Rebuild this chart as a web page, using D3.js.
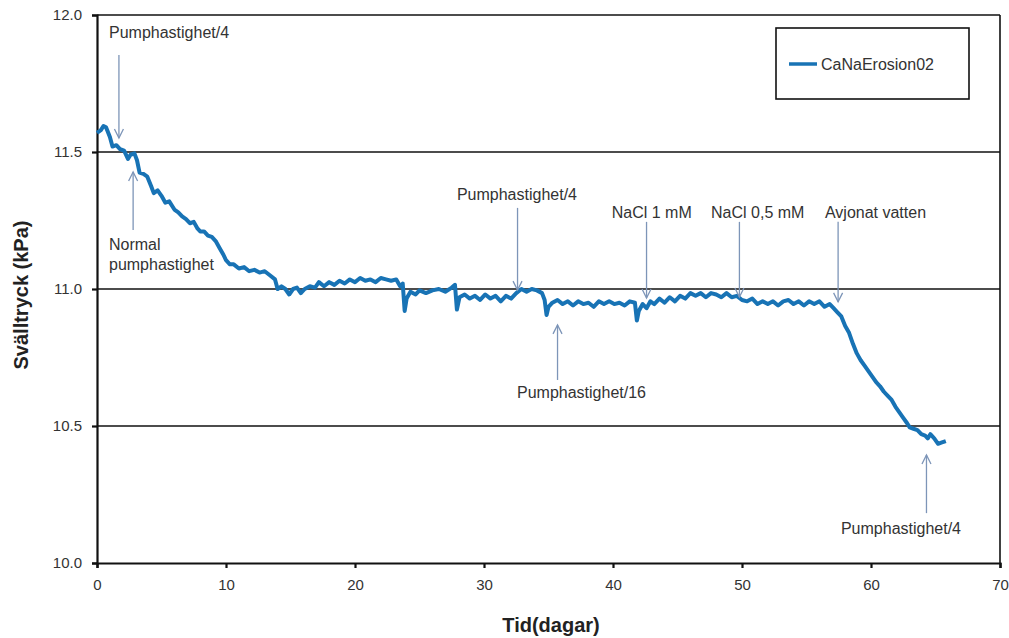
<!DOCTYPE html>
<html>
<head>
<meta charset="utf-8">
<script src="https://cdn.jsdelivr.net/npm/d3@7"></script>
<style>
  body { margin: 0; background: #fff; }
  text { font-family: "Liberation Sans", Arial, sans-serif; fill: #333; }
  .axis-title { font-weight: bold; font-size: 20px; fill: #222; }
</style>
</head>
<body>
<div id="chart"></div>
<script>
"use strict";
// tid i dagar, svälltryck i kPa
var tid = [0.0, 0.3, 0.5, 0.7, 1.0, 1.2, 1.5, 1.8, 2.1, 2.4, 2.6, 2.9, 3.1, 3.3, 3.6, 3.9, 4.2, 4.4, 4.7, 5.0,
  5.3, 5.6, 6.0, 6.3, 6.6, 6.9, 7.2, 7.5, 7.8, 8.0, 8.3, 8.6, 8.9, 9.2, 9.5, 9.8, 10.0, 10.3, 10.6, 11.0,
  11.4, 11.8, 12.2, 12.6, 13.0, 13.4, 13.8, 14.0, 14.3, 14.6, 14.9, 15.2, 15.5, 15.8, 16.1, 16.5, 16.9, 17.2, 17.6, 18.0,
  18.4, 18.8, 19.2, 19.6, 20.0, 20.4, 20.8, 21.2, 21.6, 22.0, 22.4, 22.8, 23.2, 23.5, 23.7, 23.85, 24.0, 24.3, 24.7, 25.0,
  25.5, 26.0, 26.5, 27.0, 27.5, 27.75, 27.9, 28.1, 28.5, 28.9, 29.3, 29.7, 30.1, 30.5, 30.9, 31.3, 31.7, 32.1, 32.5, 32.9,
  33.3, 33.7, 34.1, 34.5, 34.7, 34.85, 35.0, 35.3, 35.7, 36.1, 36.5, 36.9, 37.3, 37.7, 38.1, 38.5, 38.9, 39.3, 39.7, 40.1,
  40.5, 40.9, 41.3, 41.7, 41.85, 42.0, 42.3, 42.6, 42.9, 43.2, 43.6, 44.0, 44.4, 44.8, 45.2, 45.6, 46.0, 46.4, 46.8, 47.2,
  47.6, 48.0, 48.4, 48.8, 49.2, 49.6, 50.0, 50.4, 50.8, 51.2, 51.6, 52.0, 52.4, 52.8, 53.2, 53.6, 54.0, 54.4, 54.8, 55.2,
  55.6, 56.0, 56.4, 56.8, 57.1, 57.4, 57.7, 58.0, 58.3, 58.6, 58.9, 59.2, 59.5, 59.8, 60.1, 60.4, 60.7, 61.0, 61.3, 61.6,
  61.9, 62.2, 62.5, 62.8, 63.0, 63.3, 63.6, 63.9, 64.2, 64.4, 64.6, 64.9, 65.2, 65.5, 65.8];

var tryck = [11.57, 11.58, 11.595, 11.59, 11.555, 11.52, 11.525, 11.51, 11.505, 11.475, 11.49, 11.495, 11.47, 11.425, 11.42, 11.41, 11.375, 11.35, 11.36, 11.34,
  11.315, 11.32, 11.29, 11.28, 11.265, 11.255, 11.24, 11.245, 11.22, 11.21, 11.21, 11.195, 11.19, 11.175, 11.15, 11.125, 11.105, 11.09, 11.09, 11.075,
  11.08, 11.065, 11.07, 11.06, 11.065, 11.05, 11.035, 11.00, 11.01, 11.0, 10.98, 11.00, 11.005, 10.985, 11.0, 11.01, 11.005, 11.025, 11.01, 11.025,
  11.015, 11.03, 11.02, 11.035, 11.025, 11.04, 11.03, 11.035, 11.025, 11.04, 11.035, 11.03, 11.035, 11.01, 11.02, 10.92, 10.965, 10.99, 10.98, 10.995,
  10.985, 10.995, 11.0, 10.99, 11.005, 11.015, 10.925, 10.97, 10.98, 10.965, 10.975, 10.96, 10.98, 10.965, 10.975, 10.955, 10.975, 10.965, 10.985, 11.0,
  10.99, 11.0, 10.995, 10.985, 10.96, 10.905, 10.935, 10.95, 10.96, 10.945, 10.955, 10.94, 10.955, 10.945, 10.95, 10.935, 10.955, 10.945, 10.955, 10.945,
  10.95, 10.94, 10.955, 10.95, 10.885, 10.92, 10.945, 10.93, 10.955, 10.945, 10.965, 10.95, 10.97, 10.955, 10.975, 10.965, 10.985, 10.975, 10.985, 10.97,
  10.985, 10.98, 10.97, 10.985, 10.97, 10.975, 10.96, 10.955, 10.965, 10.945, 10.955, 10.945, 10.955, 10.94, 10.955, 10.96, 10.945, 10.955, 10.94, 10.955,
  10.945, 10.955, 10.935, 10.945, 10.93, 10.915, 10.90, 10.865, 10.84, 10.80, 10.765, 10.74, 10.72, 10.70, 10.68, 10.66, 10.645, 10.625, 10.61, 10.595,
  10.57, 10.55, 10.53, 10.51, 10.495, 10.49, 10.485, 10.47, 10.465, 10.455, 10.47, 10.455, 10.435, 10.44, 10.445];

var xTicks = [0, 10, 20, 30, 40, 50, 60, 70];
var yTicks = [10.0, 10.5, 11.0, 11.5, 12.0];
var gridValues = [10.5, 11.0, 11.5];
var seriesName = "CaNaErosion02";

// annotations: text, arrow day, arrow tip, arrow tail, text day, text line values
var annLabels = [["Pumphastighet/4"], ["Normal", "pumphastighet"], ["Pumphastighet/4"], ["Pumphastighet/16"],
  ["NaCl 1 mM"], ["NaCl 0,5 mM"], ["Avjonat vatten"], ["Pumphastighet/4"]];
var annDay = [1.7, 2.8, 32.6, 35.7, 42.6, 49.8, 57.45, 64.3];
var annTip = [11.551, 11.427, 10.996, 10.869, 10.967, 10.971, 10.953, 10.394];
var annTail = [11.854, 11.215, 11.296, 10.668, 11.245, 11.245, 11.245, 10.182];
var annTextDay = [0.93, 0.93, 27.9, 32.56, 39.9, 47.6, 56.43, 57.67];
var annTextVal = [[11.916], [11.142, 11.07], [11.325], [10.602], [11.259], [11.259], [11.259], [10.106]];

var W = 1009, H = 638;
var margin = { left: 97, right: 9, top: 15, bottom: 75 };

var svg = d3.select("#chart").append("svg").attr("width", W).attr("height", H);

var x = d3.scaleLinear().domain([0, 70]).range([margin.left, W - margin.right]);
var y = d3.scaleLinear().domain([10, 12]).range([H - margin.bottom, margin.top]);

// grid lines
svg.append("g").selectAll("line").data(gridValues).join("line")
  .attr("x1", x(0)).attr("x2", x(70))
  .attr("y1", function(d) { return y(d); }).attr("y2", function(d) { return y(d); })
  .attr("stroke", "#111").attr("stroke-width", 1.6);

// frame top and right
svg.append("line").attr("x1", x(0)).attr("x2", x(70)).attr("y1", y(12)).attr("y2", y(12))
  .attr("stroke", "#111").attr("stroke-width", 1.6);
svg.append("line").attr("x1", x(70)).attr("x2", x(70)).attr("y1", y(12)).attr("y2", y(10))
  .attr("stroke", "#111").attr("stroke-width", 1.6);

var xAxis = svg.append("g").attr("transform", "translate(0," + y(10) + ")")
  .call(d3.axisBottom(x).tickValues(xTicks).tickSize(5).tickPadding(11).tickFormat(d3.format("d")));
var yAxis = svg.append("g").attr("transform", "translate(" + x(0) + ",0)")
  .call(d3.axisLeft(y).tickValues(yTicks).tickSize(5).tickPadding(10).tickFormat(d3.format(".1f")));

[xAxis, yAxis].forEach(function(a) {
  a.select(".domain").attr("stroke", "#111").attr("stroke-width", 2.2);
  a.selectAll(".tick line").attr("stroke", "#111").attr("stroke-width", 2.2);
  a.selectAll(".tick text").style("font-size", "15px").style("font-family", "Liberation Sans, Arial, sans-serif").attr("fill", "#333");
});

// axis titles
svg.append("text").attr("class", "axis-title")
  .attr("x", 551).attr("y", 632).attr("text-anchor", "middle")
  .text("Tid(dagar)");
svg.append("text").attr("class", "axis-title")
  .attr("transform", "translate(28,295) rotate(-90)")
  .attr("text-anchor", "middle")
  .text("Svälltryck (kPa)");

// data line
var pts = tid.map(function(t, i) { return [t, tryck[i]]; });
var line = d3.line().x(function(d) { return x(d[0]); }).y(function(d) { return y(d[1]); });
svg.append("path").datum(pts)
  .attr("d", line)
  .attr("fill", "none")
  .attr("stroke", "#1873b5")
  .attr("stroke-width", 4)
  .attr("stroke-linejoin", "round");

// annotations
var arrowColor = "#7d95b8";
var ann = svg.append("g");
annLabels.forEach(function(lbl, i) {
  var ax = x(annDay[i]), tipY = y(annTip[i]), tailY = y(annTail[i]);
  var dir = tipY > tailY ? 1 : -1;
  ann.append("line").attr("x1", ax).attr("x2", ax).attr("y1", tailY).attr("y2", tipY)
    .attr("stroke", arrowColor).attr("stroke-width", 1.3);
  ann.append("path")
    .attr("d", "M" + (ax - 4.5) + "," + (tipY - dir * 9) + "L" + ax + "," + tipY + "L" + (ax + 4.5) + "," + (tipY - dir * 9))
    .attr("fill", "none").attr("stroke", arrowColor).attr("stroke-width", 1.3);
  lbl.forEach(function(t, j) {
    ann.append("text").attr("x", x(annTextDay[i])).attr("y", y(annTextVal[i][j]))
      .style("font-size", "16px").text(t);
  });
});

// legend
var lg = svg.append("g");
lg.append("rect").attr("x", 776).attr("y", 28).attr("width", 193).attr("height", 71)
  .attr("fill", "#fff").attr("stroke", "#111").attr("stroke-width", 1.6);
lg.append("line").attr("x1", 789).attr("x2", 817).attr("y1", 64).attr("y2", 64)
  .attr("stroke", "#1873b5").attr("stroke-width", 3.5);
lg.append("text").attr("x", 821).attr("y", 70).style("font-size", "16px").text(seriesName);
</script>
</body>
</html>
